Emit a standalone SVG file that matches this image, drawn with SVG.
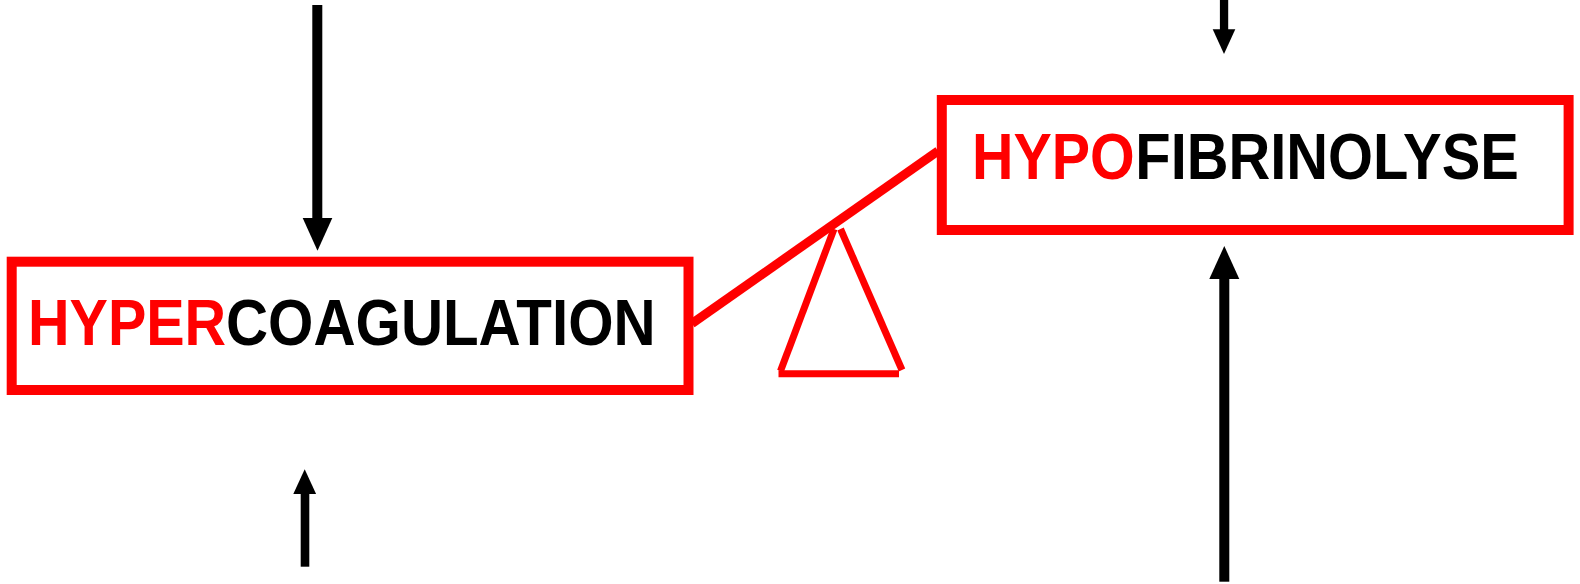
<svg xmlns="http://www.w3.org/2000/svg" width="1580" height="584" viewBox="0 0 1580 584">
  <style>
    .box { fill: #ffffff; stroke: #ff0000; stroke-width: 10; stroke-linejoin: miter; }
    .label { font-family: "Liberation Sans", Arial, "Helvetica", sans-serif; font-weight: bold; font-size: 65px; fill: #000000; }
    .hot { fill: #ff0000; }
    .lever { stroke: #ff0000; stroke-width: 9; stroke-linecap: butt; fill: none; }
    .pivot { stroke: #ff0000; stroke-width: 7; stroke-linecap: butt; fill: none; }
    .shaft { fill: #000000; }
    .head { fill: #000000; }
  </style>
  <rect width="1580" height="584" fill="#ffffff"/>

  <!-- balance: tilted beam resting on a triangular pivot -->
  <g id="balance">
    <line class="lever" x1="692" y1="323.5" x2="938" y2="151"/>
    <line class="pivot" x1="834" y1="229" x2="780.5" y2="371"/>
    <line class="pivot" x1="840.5" y1="229" x2="902" y2="370"/>
    <line class="pivot" x1="778.5" y1="373.8" x2="899" y2="373.8"/>
  </g>

  <!-- labels use a narrowed bold sans (horizontal scale) -->
  <g id="hypercoagulation">
    <rect class="box" x="11.7" y="261.7" width="676.8" height="128.3"/>
    <text class="label hot" transform="translate(28 344.8) scale(0.885 1)">HYPER</text>
    <text class="label" transform="translate(226 344.8) scale(0.897 1)">COAGULATION</text>
  </g>

  <g id="hypofibrinolyse">
    <rect class="box" x="941.8" y="100" width="626.8" height="130"/>
    <text class="label hot" transform="translate(972 179) scale(0.884 1)">HYPO</text>
    <text class="label" transform="translate(1135.3 179) scale(0.89 1)">FIBRINOLYSE</text>
  </g>

  <g id="connectors">
    <!-- down arrow into HYPERCOAGULATION -->
    <rect class="shaft" x="312.3" y="5" width="10" height="214"/>
    <polygon class="head" points="302.7,218 332.3,218 317.5,250.7"/>
    <!-- short down arrow at top right -->
    <rect class="shaft" x="1219.9" y="0" width="8.3" height="30"/>
    <polygon class="head" points="1212.7,29.3 1235.3,29.3 1224,54"/>
    <!-- short up arrow at bottom left -->
    <rect class="shaft" x="300.7" y="493" width="8.6" height="73.7"/>
    <polygon class="head" points="293.3,494 316.1,494 304.7,469.3"/>
    <!-- up arrow into HYPOFIBRINOLYSE -->
    <rect class="shaft" x="1219.3" y="278" width="10" height="303.7"/>
    <polygon class="head" points="1209.3,279 1239.3,279 1224.3,246"/>
  </g>
</svg>
